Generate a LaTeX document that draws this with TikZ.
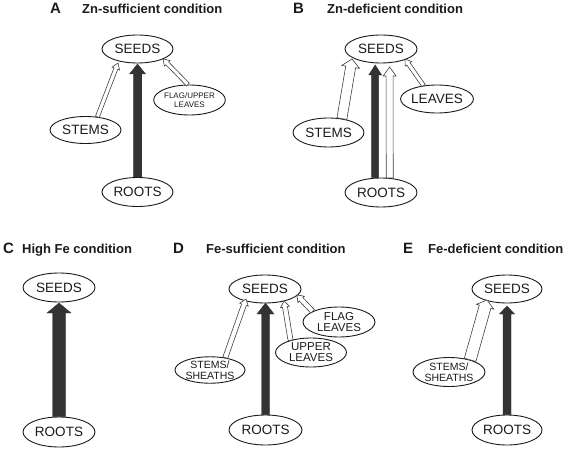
\documentclass[tikz,border=0pt]{standalone}
\usepackage{fontspec}
\setmainfont{Liberation Sans}
\usetikzlibrary{shapes.geometric,calc}
\definecolor{dark}{HTML}{333333}
\definecolor{ink}{HTML}{1A1A1A}
% #1 style, #2 tail, #3 tip, #4 half shaft, #5 half head, #6 head length
\newcommand\blockarrow[6]{%
  \coordinate (ba-h) at ($(#3)!#6!(#2)$);
  \draw[#1] ($(#2)!#4!90:(#3)$) -- ($(ba-h)!#4!-90:(#2)$) -- ($(ba-h)!#5!-90:(#2)$)
    -- (#3) -- ($(ba-h)!#5!90:(#2)$) -- ($(ba-h)!#4!90:(#2)$) -- ($(#2)!#4!-90:(#3)$) -- cycle;}
\tikzset{
  organ/.style={ellipse, draw=ink, line width=0.9pt, inner sep=0pt, minimum width=72pt,
    minimum height=29pt, text=ink, font=\fontsize{13.5}{14}\selectfont},
  organs/.style={organ, align=center, font=\fontsize{10.5}{11}\selectfont},
  solidflow/.style={fill=dark, draw=dark, line width=0.4pt, line join=miter},
  openflow/.style={fill=white, draw=black!75, line width=0.6pt, line join=miter},
  panel/.style={anchor=base west, inner sep=0pt, text=ink, font=\fontsize{15}{15}\selectfont\bfseries},
  ptitle/.style={anchor=base west, inner sep=0pt, text=ink, font=\fontsize{13}{14}\selectfont\bfseries},
}
\begin{document}
\begin{tikzpicture}[x=1pt,y=-1pt]
\useasboundingbox (0,0) rectangle (567,449);
% ---------- titles
\node[panel] (la) at (50,14) {A};
\node[ptitle] (ta) at (82,14) {Zn-sufficient condition};
\node[panel] (lb) at (293,14) {B};
\node[ptitle] (tb) at (327,14) {Zn-deficient condition};
\node[panel] (lc) at (3,253) {C};
\node[ptitle] (tc) at (22,253) {High Fe condition};
\node[panel] (ld) at (173,253) {D};
\node[ptitle] (td) at (206,253) {Fe-sufficient condition};
\node[panel] (le) at (403,253) {E};
\node[ptitle] (te) at (428,253) {Fe-deficient condition};
% ---------- panel A
\node[organ, minimum width=71pt, minimum height=28pt] (aseeds) at (137.5,49) {SEEDS};
\node[organ, minimum width=71pt, minimum height=27pt] (astems) at (85.5,130) {STEMS};
\node[organ, minimum width=65pt, minimum height=30pt, align=center,
      font=\fontsize{8}{9}\selectfont] (aflag) at (189.5,100) {FLAG/UPPER\\LEAVES};
\node[organ, minimum width=71pt] (aroots) at (137.5,192) {ROOTS};
\coordinate (aTr) at (137.5,64);
\coordinate (aTs) at (118,63);
\coordinate (aTf) at (163,59);
\blockarrow{solidflow}{aroots.north}{aTr}{4.25pt}{8pt}{10pt}
\blockarrow{openflow}{astems.48}{aTs}{2pt}{4pt}{6pt}
\blockarrow{openflow}{aflag.96}{aTf}{2pt}{4pt}{6pt}
% ---------- panel B
\node[organ, minimum height=28pt] (bseeds) at (381,49) {SEEDS};
\node[organ, minimum width=71pt] (bstems) at (328.5,132.5) {STEMS};
\node[organ, minimum height=28pt] (bleaves) at (437,99) {LEAVES};
\node[organ] (broots) at (381,192.5) {ROOTS};
\coordinate (bTr) at (375.2,65);
\coordinate (bTw) at (389.6,67);
\coordinate (bTs) at (352,59);
\coordinate (bTl) at (405,59);
\blockarrow{solidflow}{broots.112}{bTr}{3.5pt}{6.5pt}{10pt}
\blockarrow{openflow}{broots.59}{bTw}{3.5pt}{6.5pt}{9pt}
\blockarrow{openflow}{bstems.46}{bTs}{5pt}{9pt}{8pt}
\blockarrow{openflow}{bleaves.135}{bTl}{2pt}{4pt}{6pt}
% ---------- panel C
\node[organ] (cseeds) at (59,287.5) {SEEDS};
\node[organ, minimum height=30pt] (croots) at (59,432) {ROOTS};
\coordinate (cTr) at (59,303);
\blockarrow{solidflow}{croots.north}{cTr}{6.5pt}{12pt}{10pt}
% ---------- panel D
\node[organ, minimum height=28pt] (dseeds) at (265,289) {SEEDS};
\node[organs, font=\fontsize{11.5}{11}\selectfont, minimum height=30pt] (dflag) at (339,322) {FLAG\\LEAVES};
\node[organs, font=\fontsize{11.5}{11}\selectfont, minimum width=71pt] (dupper) at (311,352.5) {UPPER\\LEAVES};
\node[organs, minimum width=70pt, minimum height=26pt] (dsheath) at (210,370) {STEMS/\\SHEATHS};
\node[organ, minimum width=73pt, minimum height=30pt] (droots) at (265.5,430) {ROOTS};
\coordinate (dTr) at (265.5,303);
\coordinate (dTs) at (246,299);
\coordinate (dTu) at (284,301);
\coordinate (dTf) at (297,295);
\blockarrow{solidflow}{droots.north}{dTr}{4pt}{8.5pt}{11pt}
\blockarrow{openflow}{dsheath.39}{dTs}{2.5pt}{4.5pt}{6pt}
\blockarrow{openflow}{dupper.149}{dTu}{2.5pt}{4.5pt}{6pt}
\blockarrow{openflow}{dflag.158}{dTf}{2.5pt}{4.5pt}{6pt}
% ---------- panel E
\node[organ, minimum width=70pt, minimum height=28pt] (eseeds) at (507,289) {SEEDS};
\node[organs] (esheath) at (449,372) {STEMS/\\SHEATHS};
\node[organ, minimum width=70pt, minimum height=30pt] (eroots) at (507,430) {ROOTS};
\coordinate (eTr) at (507,306);
\coordinate (eTs) at (487,300);
\blockarrow{solidflow}{eroots.north}{eTr}{4pt}{7.5pt}{8pt}
\blockarrow{openflow}{esheath.30}{eTs}{6pt}{9pt}{7pt}
\end{tikzpicture}
\end{document}
